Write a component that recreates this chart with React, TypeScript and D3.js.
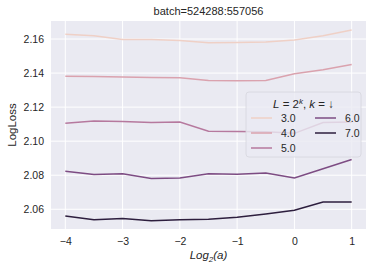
import React, { useEffect, useRef } from 'react';
import * as d3 from 'd3';

const xs = [-4, -3.5, -3, -2.5, -2, -1.5, -1, -0.5, 0, 0.5, 1];
const kLevels = [3.0, 4.0, 5.0, 6.0, 7.0];
const loss3 = [2.1628, 2.1619, 2.1598, 2.1598, 2.1592, 2.1578, 2.158, 2.1582, 2.1594, 2.162, 2.1653];
const loss4 = [2.1381, 2.138, 2.1377, 2.1374, 2.1373, 2.1357, 2.1355, 2.1357, 2.1396, 2.142, 2.1451];
const loss5 = [2.1106, 2.1118, 2.1116, 2.111, 2.1112, 2.1059, 2.1057, 2.1055, 2.1046, 2.111, 2.1112];
const loss6 = [2.0823, 2.0804, 2.0808, 2.0781, 2.0784, 2.0808, 2.0806, 2.0813, 2.0784, 2.0838, 2.0892];
const loss7 = [2.0561, 2.0539, 2.0545, 2.0533, 2.0539, 2.0541, 2.0553, 2.0572, 2.0594, 2.0643, 2.0643];
const series = [loss3, loss4, loss5, loss6, loss7];
const colors = ['#efd0c6', '#daa2ae', '#b6799e', '#7d4c83', '#2d1e3e'];
const xTicks = [-4, -3, -2, -1, 0, 1];
const yTicks = [2.06, 2.08, 2.1, 2.12, 2.14, 2.16];

export default function App() {
  const svgRef = useRef<SVGSVGElement>(null);

  useEffect(() => {
    const W = 374, H = 272;
    const m = { top: 21, right: 8, bottom: 43, left: 51 };
    const svg = d3.select(svgRef.current);
    svg.selectAll('*').remove();
    svg.attr('width', W).attr('height', H).style('font-family', 'Liberation Sans, Arial, sans-serif');

    const x = d3.scaleLinear().domain([-4.25, 1.25]).range([m.left, W - m.right]);
    const y = d3.scaleLinear().domain([2.0484, 2.1706]).range([H - m.bottom, m.top]);

    svg.append('rect')
      .attr('x', m.left).attr('y', m.top)
      .attr('width', W - m.right - m.left).attr('height', H - m.bottom - m.top)
      .attr('fill', '#eaeaf2');

    const grid = svg.append('g').attr('stroke', '#fff').attr('stroke-width', 1);
    xTicks.forEach(t => grid.append('line').attr('x1', x(t)).attr('x2', x(t)).attr('y1', m.top).attr('y2', H - m.bottom));
    yTicks.forEach(t => grid.append('line').attr('y1', y(t)).attr('y2', y(t)).attr('x1', m.left).attr('x2', W - m.right));

    const xAxis = svg.append('g')
      .attr('transform', `translate(0,${H - m.bottom})`)
      .call(d3.axisBottom(x).tickValues(xTicks).tickSize(0).tickPadding(9).tickFormat(d => d3.format('d')(d as number).replace('-', '\u2212')));
    xAxis.select('.domain').remove();
    xAxis.selectAll('text').attr('font-size', 10.5).attr('fill', '#262626');

    const yAxis = svg.append('g')
      .attr('transform', `translate(${m.left},0)`)
      .call(d3.axisLeft(y).tickValues(yTicks).tickSize(0).tickPadding(7).tickFormat(d3.format('.2f')));
    yAxis.select('.domain').remove();
    yAxis.selectAll('text').attr('font-size', 10.5).attr('fill', '#262626');

    const line = d3.line<number>().x((_, i) => x(xs[i])).y(d => y(d));
    series.forEach((s, i) => {
      svg.append('path').datum(s).attr('d', line).attr('fill', 'none')
        .attr('stroke', colors[i]).attr('stroke-width', 1.5);
    });

    svg.append('text').attr('x', (m.left + W - m.right) / 2).attr('y', 15)
      .attr('text-anchor', 'middle').attr('font-size', 11).attr('fill', '#262626')
      .text('batch=524288:557056');

    svg.append('text').attr('transform', `translate(16,${(m.top + H - m.bottom) / 2}) rotate(-90)`)
      .attr('text-anchor', 'middle').attr('font-size', 11.5).attr('fill', '#262626')
      .text('LogLoss');

    const xl = svg.append('text').attr('x', (m.left + W - m.right) / 2).attr('y', 259)
      .attr('text-anchor', 'middle').attr('font-size', 11.5).attr('fill', '#262626').attr('font-style', 'italic');
    xl.append('tspan').text('Log');
    xl.append('tspan').attr('font-size', 8).attr('dy', 3).text('2');
    xl.append('tspan').attr('dy', -3).text('(a)');

    // legend
    const lg = svg.append('g').attr('transform', 'translate(246,92)');
    lg.append('rect').attr('width', 115).attr('height', 65).attr('rx', 3)
      .attr('fill', '#eaeaf2').attr('fill-opacity', 0.8).attr('stroke', '#d5d5dd').attr('stroke-width', 0.8);
    const tt = lg.append('text').attr('x', 57.5).attr('y', 16).attr('text-anchor', 'middle')
      .attr('font-size', 11.5).attr('fill', '#262626');
    tt.append('tspan').attr('font-style', 'italic').text('L');
    tt.append('tspan').text(' = 2');
    tt.append('tspan').attr('font-style', 'italic').attr('font-size', 8).attr('dy', -4).text('k');
    tt.append('tspan').attr('dy', 4).text(', ');
    tt.append('tspan').attr('font-style', 'italic').text('k');
    tt.append('tspan').text(' =  \u2193');

    kLevels.forEach((k, i) => {
      const col = i < 3 ? 0 : 1;
      const row = i < 3 ? i : i - 3;
      const lx = 5 + col * 64;
      const ly = 26 + row * 15;
      lg.append('line').attr('x1', lx).attr('x2', lx + 21).attr('y1', ly).attr('y2', ly)
        .attr('stroke', colors[i]).attr('stroke-width', 1.5);
      lg.append('text').attr('x', lx + 30).attr('y', ly + 3.5).attr('font-size', 10.5)
        .attr('fill', '#262626').text(d3.format('.1f')(k));
    });
  }, []);

  return (
    <div style={{ position: 'absolute', left: 0, top: 0 }}>
      <svg ref={svgRef}></svg>
    </div>
  );
}
